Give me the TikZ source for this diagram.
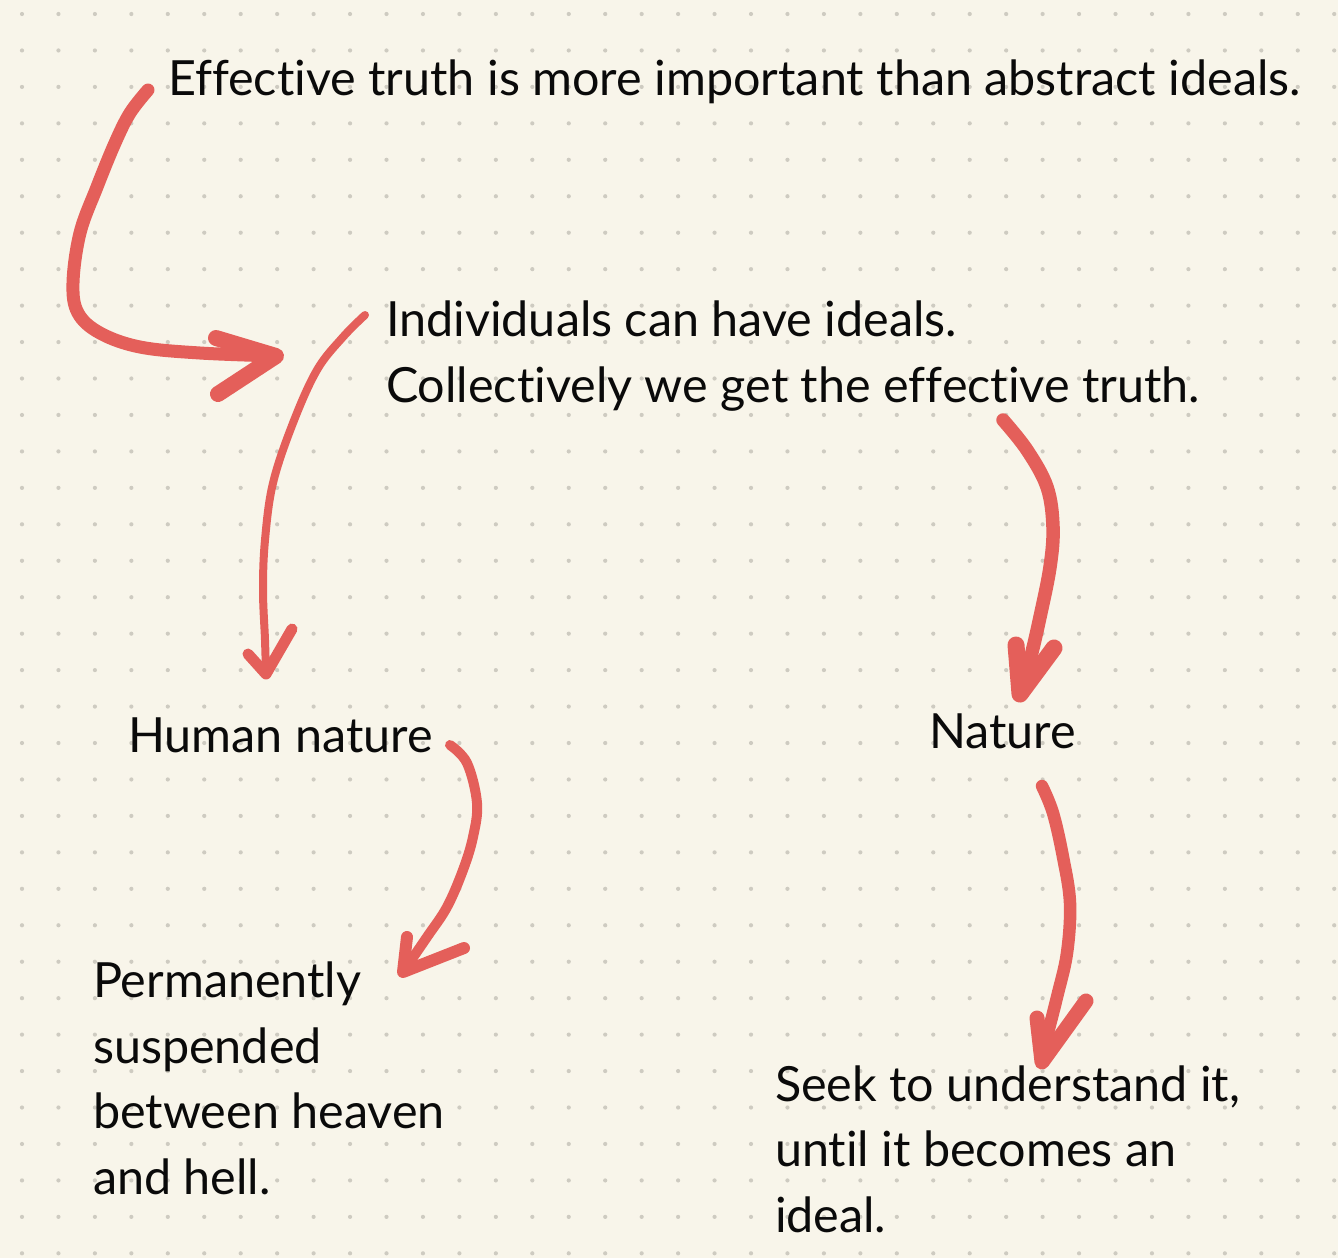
\documentclass[tikz,border=0pt]{standalone}
\usepackage{fontspec}
\setmainfont{Lato}[Ligatures={NoCommon}]
\definecolor{paper}{HTML}{F8F5EA}
\definecolor{griddot}{HTML}{CECBC1}
\definecolor{ink}{HTML}{E45F5A}
\definecolor{txt}{HTML}{0A0A0A}
\begin{document}
\begin{tikzpicture}[x=1bp,y=-1bp,
  label/.style={anchor=base west,inner sep=0pt,outer sep=0pt,text=txt,align=left,
    font=\fontsize{48.5bp}{65.5bp}\selectfont},
  stroke/.style={draw=ink,line cap=round,line join=round},
]
\fill[paper] (0,0) rectangle (1338,1258);
\useasboundingbox (0,0) rectangle (1338,1258);
\foreach \i in {0,...,36}{
  \foreach \j in {0,...,34}{
    \fill[griddot] (22+\i*36.45,14+\j*36.45) circle (2.1);
  }
}
% texts (base west = baseline of the last line)
\node[label] (t1) at (168,95) {Effective truth is more important than abstract ideals.};
\node[label] (t2) at (386,402) {Individuals can have ideals.\\Collectively we get the effective truth.};
\node[label] (t3) at (128,752) {Human nature};
\node[label] (t4) at (929,748) {Nature};
\node[label] (t5) at (93,1194) {Permanently\\suspended\\between heaven\\and hell.};
\node[label] (t6) at (775,1232) {Seek to understand it,\\until it becomes an\\ideal.};
% connector end points
\coordinate (a1s) at (148,90);  \coordinate (a1e) at (276,356);
\coordinate (a2s) at (365,315); \coordinate (a2e) at (266,674);
\coordinate (a3s) at (1003,420);\coordinate (a3e) at (1020,694);
\coordinate (a4s) at (450,745); \coordinate (a4e) at (403,972);
\coordinate (a5s) at (1042,786);\coordinate (a5e) at (1042,1062);
% arrow 1
\draw[stroke,line width=13bp] plot[smooth,tension=0.6] coordinates
  {(a1s) (130,113) (115,143) (97,187) (80,233) (73,283) (78,313) (100,333) (140,347) (200,353) (a1e)};
\draw[stroke,line width=16bp] (216,338) -- (a1e) -- (218,394);
% arrow 2
\draw[stroke,line width=8bp] plot[smooth,tension=0.6] coordinates
  {(a2s) (343,337) (317,370) (293,423) (273,483) (265,540) (263,590) (265,640) (a2e)};
\draw[stroke,line width=11bp] (248,654) -- (a2e) -- (292,629);
% arrow 3
\draw[stroke,line width=13.5bp] plot[smooth,tension=0.6] coordinates
  {(a3s) (1027,450) (1047,487) (1053,527) (1050,567) (1040,617) (1030,660) (a3e)};
\draw[stroke,line width=17bp] (1016,645) -- (a3e) -- (1054,648);
% arrow 4
\draw[stroke,line width=10bp] plot[smooth,tension=0.6] coordinates
  {(a4s) (467,763) (477,803) (473,837) (463,870) (447,907) (427,937) (a4e)};
\draw[stroke,line width=12bp] (407,937) -- (a4e) -- (464,948);
% arrow 5
\draw[stroke,line width=12.5bp] plot[smooth,tension=0.6] coordinates
  {(a5s) (1053,813) (1063,857) (1070,903) (1067,953) (1057,997) (1047,1037) (a5e)};
\draw[stroke,line width=15bp] (1037,1018) -- (a5e) -- (1086,1001);
\end{tikzpicture}
\end{document}
